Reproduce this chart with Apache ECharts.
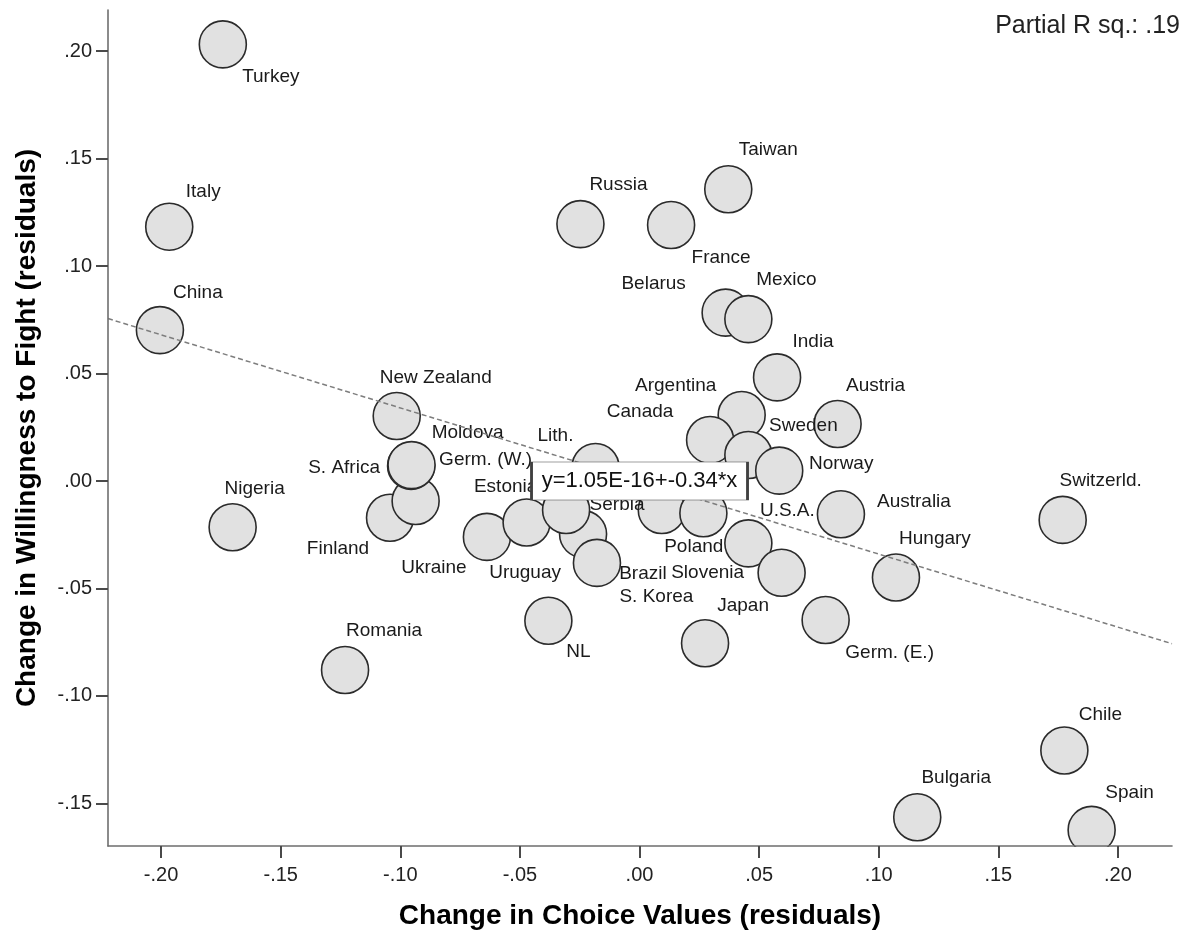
<!DOCTYPE html>
<html>
<head>
<meta charset="utf-8">
<title>Change in Willingness to Fight vs. Change in Choice Values</title>
<script src="https://cdn.jsdelivr.net/npm/echarts@6/dist/echarts.min.js"></script>
<style>
  html, body { margin: 0; padding: 0; background: #ffffff; }
  #chart { width: 1190px; height: 935px; }
</style>
</head>
<body>
<div id="chart"></div>
<script>
// Country residuals (partial regression plot), listed in drawing order
const countries = [
  'Turkey', 'Italy', 'China', 'Nigeria', 'Romania', 'New Zealand', 'Finland', 'Moldova',
  'S. Africa', 'Germ. (W.)', 'Ukraine', 'Estonia', 'Uruguay', 'Serbia', 'Lith.', 'Brazil',
  'NL', 'Poland', 'S. Korea', 'Argentina', 'Canada', 'Sweden', 'Norway', 'U.S.A.',
  'Slovenia', 'Austria', 'Australia', 'India', 'Russia', 'France', 'Taiwan', 'Belarus',
  'Mexico', 'Japan', 'Germ. (E.)', 'Hungary', 'Switzerld.', 'Chile', 'Bulgaria', 'Spain'
];
const choiceValuesChange = [
  -0.1742, -0.1966, -0.2005, -0.1701, -0.1231, -0.1015, -0.1043, -0.0936,
  -0.0955, -0.0953, -0.0638, -0.0472, -0.0236, -0.0307, -0.0184, -0.0178,
  -0.0381, 0.0093, 0.0267, 0.0427, 0.0295, 0.0455, 0.0584, 0.0455,
  0.0594, 0.0828, 0.0842, 0.0575, -0.0247, 0.0132, 0.0371, 0.0360,
  0.0455, 0.0274, 0.0778, 0.1072, 0.1769, 0.1776, 0.1161, 0.1890
];
const willingnessChange = [
  0.2031, 0.1183, 0.0702, -0.0215, -0.0879, 0.0302, -0.0171, -0.0093,
  0.0070, 0.0074, -0.0260, -0.0193, -0.0247, -0.0135, 0.0065, -0.0381,
  -0.0650, -0.0135, -0.0150, 0.0307, 0.0191, 0.0121, 0.0048, -0.0290,
  -0.0427, 0.0265, -0.0155, 0.0482, 0.1195, 0.1191, 0.1357, 0.0783,
  0.0753, -0.0755, -0.0647, -0.0449, -0.0181, -0.1254, -0.1564, -0.1623
];
const xTicks = [-0.20, -0.15, -0.10, -0.05, 0.00, 0.05, 0.10, 0.15, 0.20];
const yTicks = [-0.15, -0.10, -0.05, 0.00, 0.05, 0.10, 0.15, 0.20];
const fitIntercept = 1.05e-16;
const fitSlope = -0.34;
const partialRSq = '.19';

// Where each country name sits, in pixels from the centre of its marker
const labelOffsets = [
  [48, 32], [34, -35], [38, -37], [22, -38], [39, -39], [39, -38], [-52, 31], [52, -68],
  [-67, 2], [74, -5], [-53, 31], [-21, -36], [-58, 39], [51, -5], [-40, -31], [46, 11],
  [30, 31], [32, 37], [-47, 84], [-66, -29], [-70, -28], [55, -29], [62, -7], [39, -33],
  [-74, 0], [38, -38], [73, -13], [36, -36], [38, -39], [50, 33], [40, -40], [-72, -29],
  [38, -39], [38, -38], [64, 33], [39, -39], [38, -39], [36, -36], [39, -39], [38, -37]
];

const X_MIN = -0.2222, X_MAX = 0.2226;
const Y_MIN = -0.1698, Y_MAX = 0.2191;
const GRID = { left: 108, right: 18, top: 10, bottom: 89 };
const WIDTH = 1190, HEIGHT = 935;
const FONT = "'Liberation Sans', Arial, Helvetica, sans-serif";
const AXIS_GREY = '#6e6e6e';

// ".20", "-.15", ".00" style tick labels
const fmtTick = v => v.toFixed(2).replace(/^(-?)0\./, '$1.');
const fitAt = x => fitIntercept + fitSlope * x;
const equationText = 'y=' + fitIntercept.toExponential(2).toUpperCase() + '+' + fitSlope.toFixed(2) + '*x';

const points = countries.map((name, i) => ({
  name: name,
  value: [choiceValuesChange[i], willingnessChange[i]],
  label: { offset: labelOffsets[i] }
}));

const chart = echarts.init(document.getElementById('chart'), null, { renderer: 'canvas' });

chart.setOption({
  animation: false,
  backgroundColor: '#ffffff',
  textStyle: { fontFamily: FONT },
  grid: Object.assign({ containLabel: false, outerBoundsMode: 'none' }, GRID),
  xAxis: {
    type: 'value',
    min: X_MIN,
    max: X_MAX,
    z: 12,
    name: 'Change in Choice Values (residuals)',
    nameLocation: 'middle',
    nameGap: 56,
    nameTextStyle: { fontSize: 28, fontWeight: 'bold', color: '#000', fontFamily: FONT },
    axisLine: { show: true, onZero: false, lineStyle: { color: AXIS_GREY, width: 1.6 } },
    axisTick: { show: true, inside: false, length: 12, customValues: xTicks, lineStyle: { color: '#4a4a4a', width: 2 } },
    axisLabel: { customValues: xTicks, formatter: fmtTick, fontSize: 20, color: '#222', margin: 19, fontFamily: FONT },
    splitLine: { show: false }
  },
  yAxis: {
    type: 'value',
    min: Y_MIN,
    max: Y_MAX,
    z: 12,
    name: 'Change in Willingness to Fight (residuals)',
    nameLocation: 'middle',
    nameGap: 67,
    nameTextStyle: { fontSize: 28, fontWeight: 'bold', color: '#000', fontFamily: FONT },
    axisLine: { show: true, onZero: false, lineStyle: { color: AXIS_GREY, width: 1.6 } },
    axisTick: { show: true, inside: false, length: 12, customValues: yTicks, lineStyle: { color: '#4a4a4a', width: 2 } },
    axisLabel: { customValues: yTicks, formatter: fmtTick, fontSize: 20, color: '#222', margin: 16, fontFamily: FONT },
    splitLine: { show: false }
  },
  graphic: [
    {
      // keeps markers from spilling below the x axis line (plot area is clipped there)
      type: 'rect',
      z: 10,
      silent: true,
      shape: { x: GRID.left + 1, y: HEIGHT - GRID.bottom + 1, width: WIDTH - GRID.left - GRID.right - 1, height: 11 },
      style: { fill: '#ffffff' }
    },
    {
      type: 'text',
      right: 10,
      top: 14,
      z: 10,
      style: { text: 'Partial R sq.: ' + partialRSq, fontSize: 25, fill: '#222', font: '25px ' + FONT }
    }
  ],
  series: [
    {
      name: 'Countries',
      type: 'scatter',
      z: 2,
      symbol: 'circle',
      symbolSize: 47,
      itemStyle: { color: '#e1e1e1', borderColor: '#2b2b2b', borderWidth: 1.6, opacity: 1 },
      label: {
        show: true,
        position: 'inside',
        formatter: '{b}',
        fontSize: 19,
        color: '#1a1a1a',
        fontFamily: FONT,
        textBorderWidth: 0
      },
      emphasis: { disabled: true },
      data: points
    },
    {
      name: 'Fit line',
      type: 'line',
      z: 3,
      silent: true,
      showSymbol: false,
      symbol: 'none',
      lineStyle: { color: '#7d7d7d', width: 1.5, type: [5, 3] },
      data: [[X_MIN, fitAt(X_MIN)], [X_MAX, fitAt(X_MAX)]]
    },
    {
      name: 'Fit equation',
      type: 'scatter',
      z: 4,
      silent: true,
      symbol: 'rect',
      symbolSize: [216, 38],
      itemStyle: { color: '#ffffff', borderColor: '#404040', borderWidth: 1.2, opacity: 1 },
      label: {
        show: true,
        position: 'inside',
        formatter: equationText,
        fontSize: 22,
        color: '#111',
        fontFamily: FONT,
        textBorderWidth: 0
      },
      emphasis: { disabled: true },
      data: [[0, fitAt(0)]]
    }
  ]
});
</script>
</body>
</html>
